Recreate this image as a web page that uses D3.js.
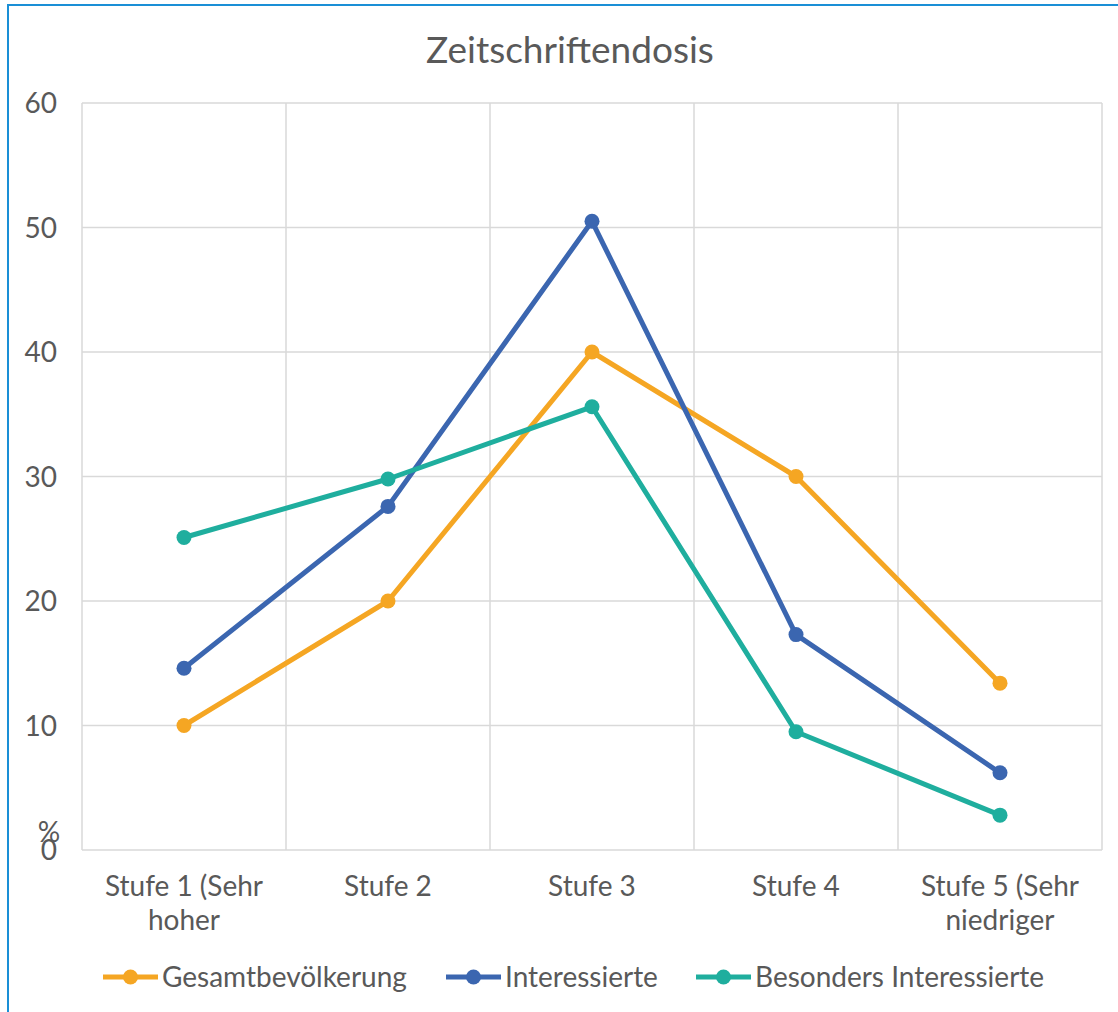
<!DOCTYPE html>
<html>
<head>
<meta charset="utf-8">
<script src="https://cdn.jsdelivr.net/npm/d3@7"></script>
<style>
  body { margin: 0; background: #fff; }
  svg { font-family: Lato, "Open Sans", sans-serif; }
</style>
</head>
<body>
<svg width="1118" height="1012"></svg>
<script>
// chart data
const categories = ['Stufe 1 (Sehr|hoher', 'Stufe 2', 'Stufe 3', 'Stufe 4', 'Stufe 5 (Sehr|niedriger'];
const gesamt = [10, 20, 40, 30, 13.4];
const interessierte = [14.6, 27.6, 50.5, 17.3, 6.2];
const besonders = [25.1, 29.8, 35.6, 9.5, 2.8];
const seriesNames = ['Gesamtbevölkerung', 'Interessierte', 'Besonders Interessierte'];
const yTicks = [0, 10, 20, 30, 40, 50, 60];

const colors = ['#f5a623', '#3b66b0', '#1fae9e'];
const allSeries = [gesamt, interessierte, besonders];

const svg = d3.select('svg');
const width = +svg.attr('width');
const height = +svg.attr('height');

// blue frame (right/bottom edges fall outside the picture)
svg.append('rect')
    .attr('x', 8).attr('y', 5)
    .attr('width', 1200).attr('height', 1100)
    .attr('fill', 'none')
    .attr('stroke', '#1a8fd6')
    .attr('stroke-width', 2);

const margin = {top: 103, left: 82, right: 16, bottom: 162};

const xScale = d3.scaleBand()
    .domain(categories)
    .range([margin.left, width - margin.right]);

const yScale = d3.scaleLinear()
    .domain([0, 60])
    .range([height - margin.bottom, margin.top]);

// grid
const grid = svg.append('g');
grid.selectAll('.hline')
    .data(yTicks)
    .enter().append('line')
    .attr('x1', margin.left).attr('x2', width - margin.right)
    .attr('y1', d => yScale(d)).attr('y2', d => yScale(d))
    .attr('stroke', '#d9d9d9').attr('stroke-width', 1.5);

const xEdges = categories.map(c => xScale(c)).concat([width - margin.right]);
grid.selectAll('.vline')
    .data(xEdges)
    .enter().append('line')
    .attr('x1', d => d).attr('x2', d => d)
    .attr('y1', margin.top).attr('y2', yScale(0))
    .attr('stroke', '#d9d9d9').attr('stroke-width', 1.5);

// y tick labels
svg.append('g').selectAll('text')
    .data(yTicks)
    .enter().append('text')
    .attr('x', 57)
    .attr('y', d => yScale(d) + 10)
    .attr('text-anchor', 'end')
    .attr('fill', '#595959')
    .attr('font-size', 28)
    .text(d => d);

// "%" axis title
svg.append('text')
    .attr('x', 49).attr('y', 842)
    .attr('text-anchor', 'middle')
    .attr('fill', '#595959')
    .attr('font-size', 28)
    .text('%');

// x labels
const xLabels = svg.append('g').selectAll('text')
    .data(categories)
    .enter().append('text')
    .attr('x', d => xScale(d) + xScale.bandwidth() / 2)
    .attr('y', 896)
    .attr('text-anchor', 'middle')
    .attr('fill', '#595959')
    .attr('font-size', 28);
xLabels.each(function(d) {
    const parts = d.split('|');
    const t = d3.select(this);
    parts.forEach((p, i) => {
        t.append('tspan')
            .attr('x', xScale(d) + xScale.bandwidth() / 2)
            .attr('dy', i === 0 ? 0 : 34)
            .text(p);
    });
});

// lines
const line = d3.line()
    .x((d, i) => xScale(categories[i]) + xScale.bandwidth() / 2)
    .y(d => yScale(d));

allSeries.forEach((s, k) => {
    svg.append('path')
        .datum(s)
        .attr('d', line)
        .attr('fill', 'none')
        .attr('stroke', colors[k])
        .attr('stroke-width', 5)
        .attr('stroke-linejoin', 'round');
    svg.selectAll('.dot' + k)
        .data(s)
        .enter().append('circle')
        .attr('cx', (d, i) => xScale(categories[i]) + xScale.bandwidth() / 2)
        .attr('cy', d => yScale(d))
        .attr('r', 7.5)
        .attr('fill', colors[k]);
});

// title
svg.append('text')
    .attr('x', 570).attr('y', 63)
    .attr('text-anchor', 'middle')
    .attr('fill', '#595959')
    .attr('font-size', 37)
    .text('Zeitschriftendosis');

// legend
const legendX = [103, 446, 696];
const legend = svg.append('g');
seriesNames.forEach((n, k) => {
    const g = legend.append('g').attr('transform', `translate(${legendX[k]},977)`);
    g.append('line')
        .attr('x1', 0).attr('x2', 55)
        .attr('stroke', colors[k]).attr('stroke-width', 5);
    g.append('circle').attr('cx', 27.5).attr('r', 7.5).attr('fill', colors[k]);
    g.append('text')
        .attr('x', 59).attr('y', 10)
        .attr('fill', '#595959')
        .attr('font-size', 28)
        .text(n);
});
</script>
</body>
</html>
